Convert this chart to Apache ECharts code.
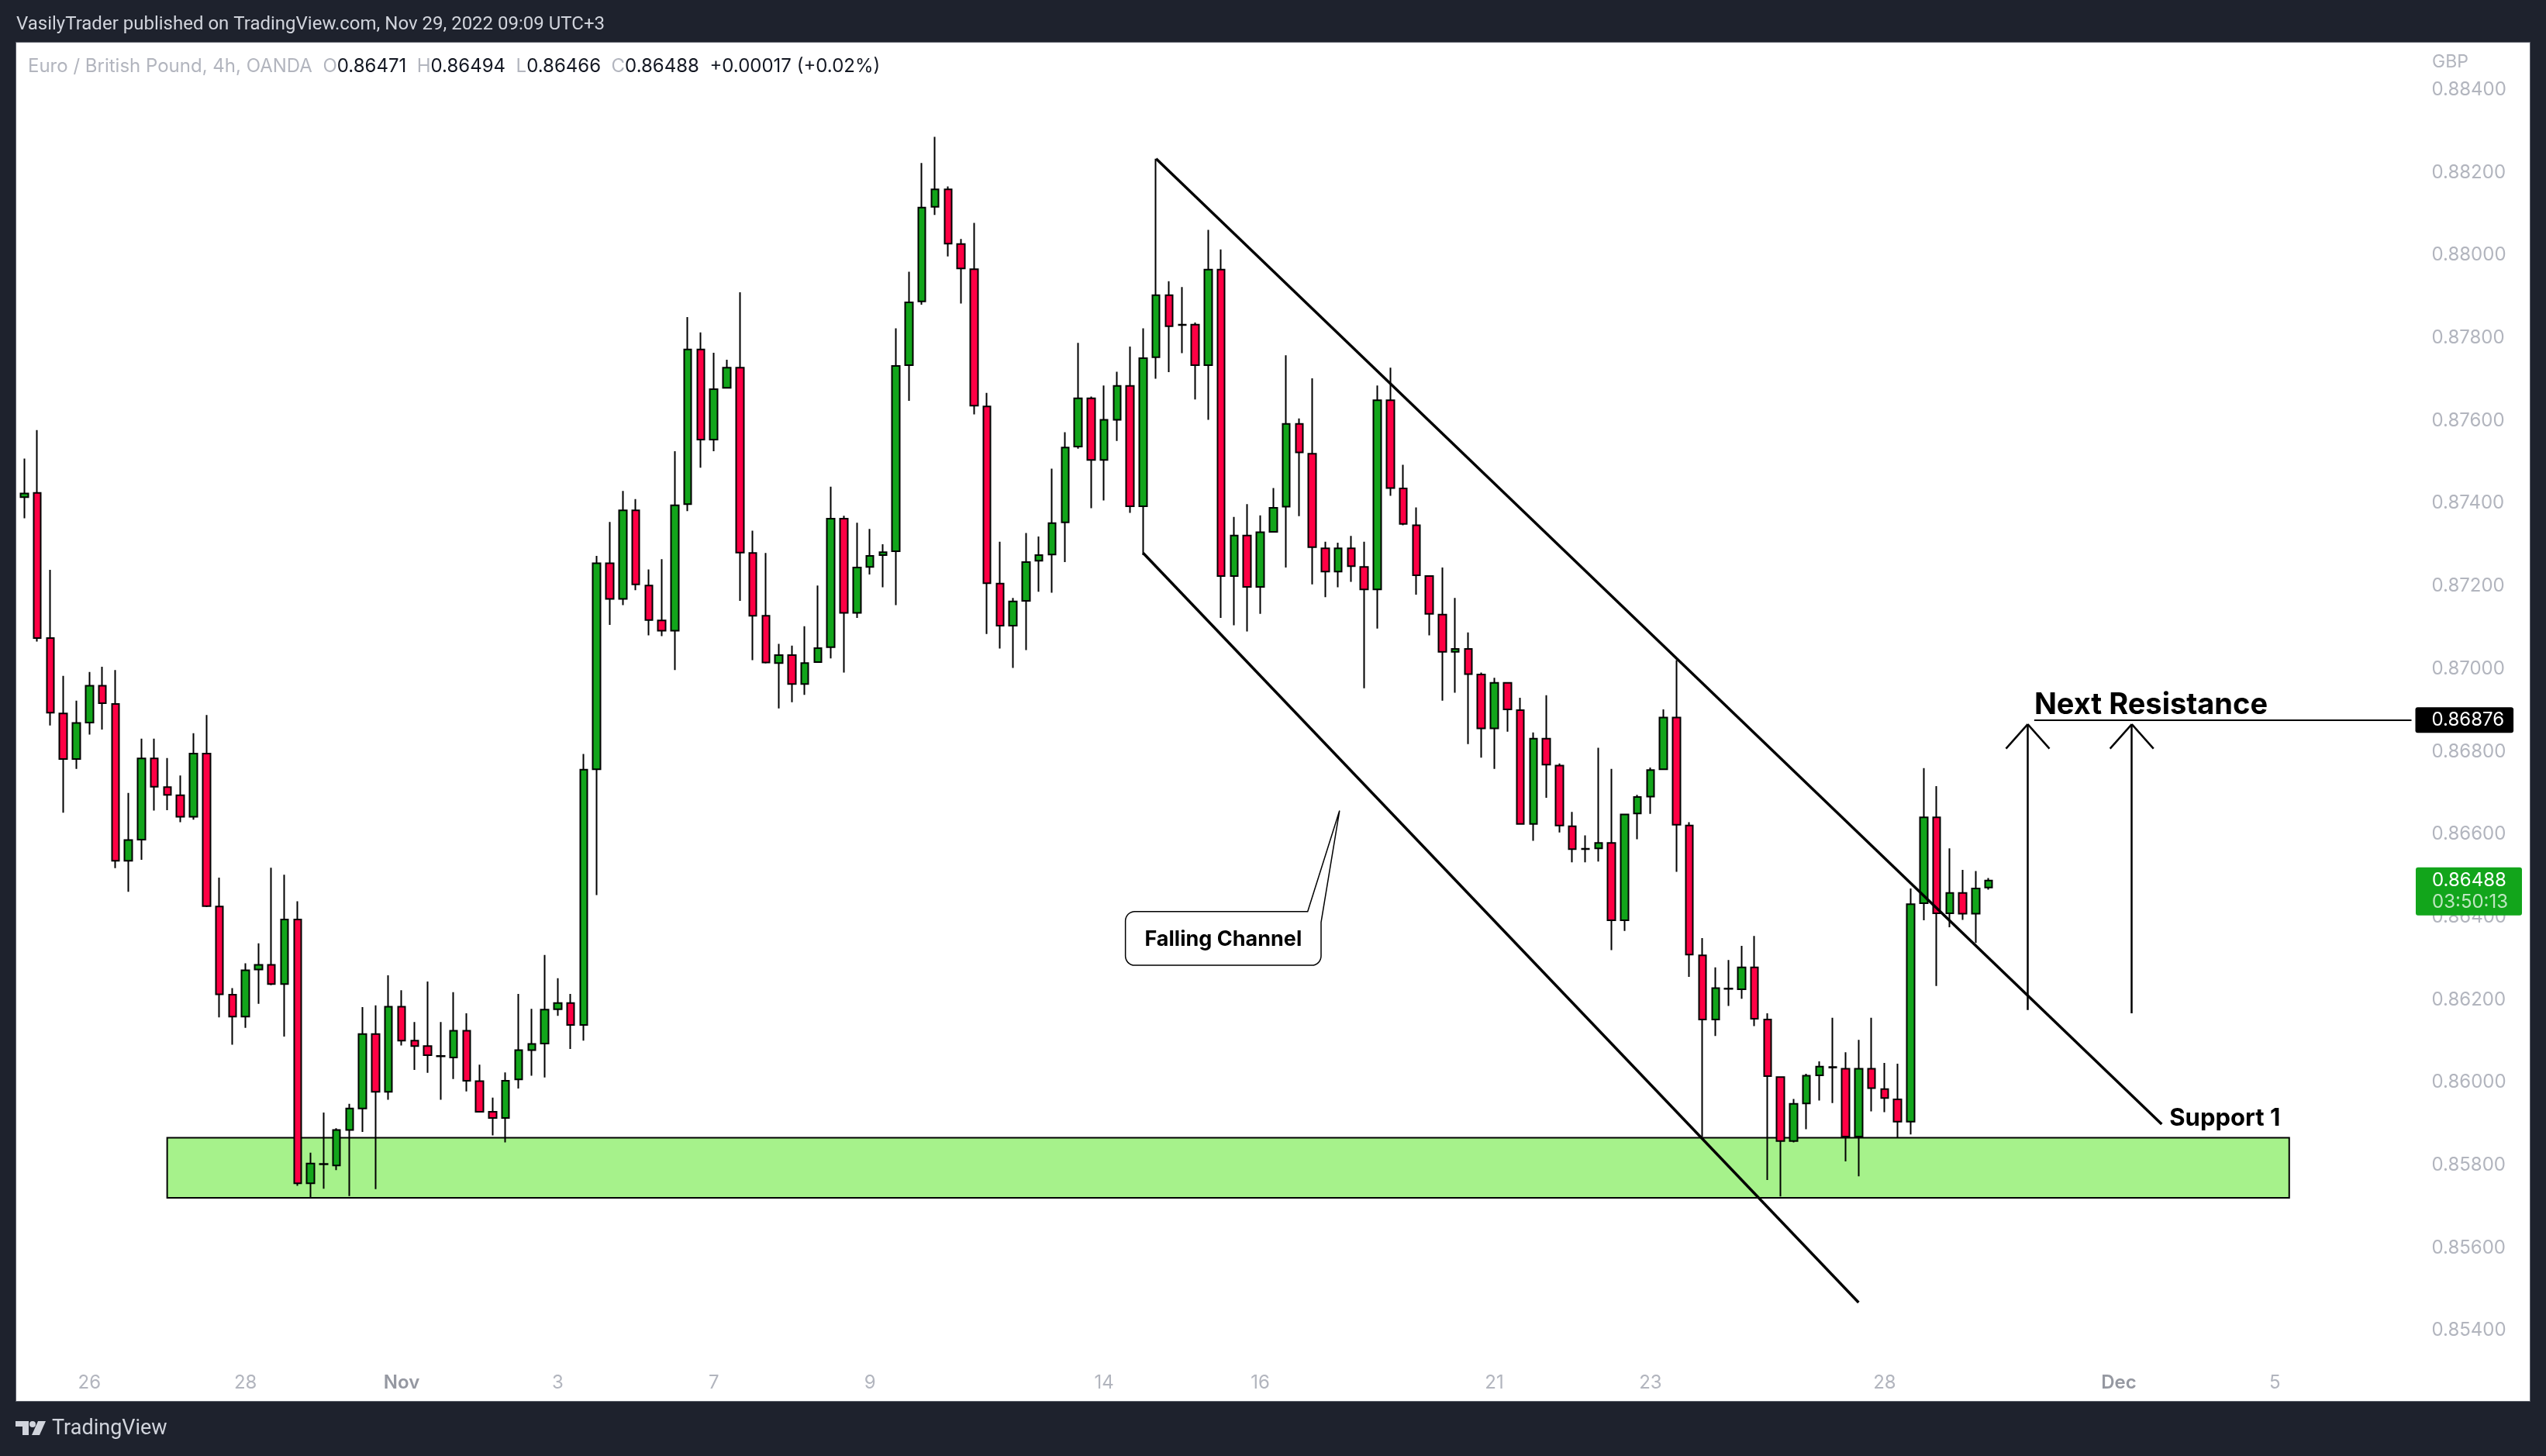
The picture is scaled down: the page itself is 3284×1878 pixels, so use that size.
<!DOCTYPE html>
<html>
<head>
<meta charset="utf-8">
<script src="https://cdn.jsdelivr.net/npm/echarts@6/dist/echarts.min.js"></script>
<style>
html,body{margin:0;padding:0;background:#1e222d;overflow:hidden;}
#frame{position:absolute;left:20px;top:54px;width:3242px;height:1752px;background:#fff;border:1px solid #5d606b;}
#c{position:absolute;left:0;top:0;width:3284px;height:1878px;}
</style>
</head>
<body>
<div id="frame"></div>
<div id="c"></div>
<script>
// ---- EUR/GBP 4h candles (OANDA) ----
const opens = [0.87415,0.87425,0.87074,0.86892,0.86782,0.86870,0.86959,0.86915,0.86536,0.86587,
0.86783,0.86714,0.86694,0.86642,0.86795,0.86425,0.86212,0.86159,0.86273,0.86284,
0.86238,0.86394,0.85756,0.85802,0.85799,0.85885,0.85937,0.86117,0.85977,0.86183,
0.86101,0.86088,0.86063,0.86060,0.86125,0.86003,0.85929,0.85914,0.86007,0.86078,
0.86094,0.86177,0.86192,0.86139,0.86757,0.87255,0.87169,0.87383,0.87201,0.87117,
0.87092,0.87398,0.87772,0.87554,0.87679,0.87728,0.87280,0.87128,0.87014,0.87033,
0.86963,0.87016,0.87052,0.87363,0.87135,0.87246,0.87275,0.87284,0.87734,0.87888,
0.88117,0.88159,0.88027,0.87966,0.87634,0.87206,0.87104,0.87164,0.87261,0.87276,
0.87354,0.87537,0.87654,0.87505,0.87602,0.87684,0.87393,0.87753,0.87903,0.87831,
0.87832,0.87734,0.87965,0.87224,0.87322,0.87198,0.87331,0.87392,0.87592,0.87520,
0.87291,0.87235,0.87291,0.87246,0.87192,0.87649,0.87436,0.87347,0.87224,0.87131,
0.87041,0.87048,0.86986,0.86856,0.86966,0.86900,0.86625,0.86831,0.86766,0.86619,
0.86564,0.86566,0.86579,0.86392,0.86650,0.86691,0.86757,0.86882,0.86621,0.86307,
0.86152,0.86226,0.86225,0.86278,0.86152,0.86013,0.85858,0.85949,0.86017,0.86036,
0.86033,0.85869,0.86033,0.85984,0.85959,0.85905,0.86433,0.86641,0.86409,0.86458,
0.86408,0.86471];
const highs = [0.87508,0.87577,0.87239,0.86983,0.86923,0.86992,0.87005,0.86997,0.86700,0.86831,
0.86831,0.86784,0.86742,0.86844,0.86888,0.86495,0.86228,0.86288,0.86336,0.86519,
0.86502,0.86438,0.85830,0.85927,0.85889,0.85948,0.86182,0.86186,0.86259,0.86223,
0.86146,0.86244,0.86146,0.86218,0.86167,0.86043,0.85963,0.86024,0.86214,0.86178,
0.86308,0.86252,0.86214,0.86794,0.87273,0.87355,0.87430,0.87410,0.87240,0.87265,
0.87526,0.87850,0.87813,0.87764,0.87747,0.87910,0.87334,0.87280,0.87060,0.87056,
0.87103,0.87201,0.87440,0.87370,0.87353,0.87338,0.87301,0.87823,0.87960,0.88223,
0.88286,0.88166,0.88039,0.88078,0.87667,0.87307,0.87171,0.87328,0.87320,0.87484,
0.87572,0.87788,0.87658,0.87685,0.87718,0.87779,0.87823,0.88233,0.87937,0.87923,
0.87837,0.88061,0.88014,0.87367,0.87398,0.87371,0.87437,0.87758,0.87605,0.87702,
0.87307,0.87305,0.87321,0.87307,0.87685,0.87728,0.87493,0.87390,0.87224,0.87245,
0.87171,0.87088,0.86991,0.86978,0.86968,0.86930,0.86846,0.86936,0.86771,0.86654,
0.86597,0.86809,0.86758,0.86648,0.86695,0.86761,0.86902,0.87021,0.86629,0.86349,
0.86278,0.86296,0.86330,0.86354,0.86167,0.86013,0.85960,0.86021,0.86051,0.86156,
0.86073,0.86103,0.86156,0.86047,0.86045,0.86469,0.86760,0.86716,0.86566,0.86514,
0.86511,0.86494];
const lows = [0.87364,0.87066,0.86863,0.86652,0.86758,0.86841,0.86853,0.86518,0.86461,0.86538,
0.86657,0.86658,0.86629,0.86635,0.86424,0.86157,0.86091,0.86132,0.86190,0.86235,
0.86111,0.85750,0.85721,0.85743,0.85788,0.85725,0.85880,0.85742,0.85958,0.86089,
0.86030,0.86023,0.85958,0.86008,0.85978,0.85927,0.85872,0.85855,0.85985,0.86016,
0.86012,0.86161,0.86081,0.86101,0.86453,0.87106,0.87154,0.87190,0.87081,0.87079,
0.86997,0.87381,0.87486,0.87526,0.87679,0.87164,0.87021,0.87013,0.86904,0.86919,
0.86937,0.87016,0.87025,0.86991,0.87123,0.87228,0.87197,0.87154,0.87648,0.87880,
0.88097,0.87997,0.87883,0.87615,0.87084,0.87049,0.87002,0.87045,0.87186,0.87184,
0.87258,0.87532,0.87388,0.87407,0.87551,0.87377,0.87275,0.87701,0.87717,0.87763,
0.87651,0.87602,0.87123,0.87105,0.87090,0.87133,0.87329,0.87245,0.87369,0.87204,
0.87173,0.87197,0.87210,0.86953,0.87097,0.87418,0.87347,0.87179,0.87081,0.86923,
0.86942,0.86818,0.86785,0.86758,0.86848,0.86624,0.86584,0.86688,0.86604,0.86532,
0.86532,0.86534,0.86320,0.86366,0.86588,0.86649,0.86755,0.86509,0.86255,0.85868,
0.86112,0.86185,0.86202,0.86136,0.85764,0.85724,0.85855,0.85887,0.85956,0.85950,
0.85809,0.85773,0.85930,0.85928,0.85867,0.85874,0.86392,0.86233,0.86375,0.86393,
0.86337,0.86466];
const closes = [0.87424,0.87074,0.86894,0.86782,0.86869,0.86959,0.86917,0.86536,0.86586,0.86783,
0.86715,0.86695,0.86642,0.86795,0.86426,0.86213,0.86159,0.86271,0.86284,0.86238,
0.86394,0.85756,0.85804,0.85803,0.85885,0.85937,0.86117,0.85977,0.86183,0.86101,
0.86088,0.86066,0.86064,0.86125,0.86004,0.85929,0.85914,0.86004,0.86078,0.86093,
0.86176,0.86192,0.86139,0.86756,0.87255,0.87169,0.87383,0.87204,0.87118,0.87092,
0.87395,0.87772,0.87554,0.87676,0.87728,0.87281,0.87128,0.87015,0.87033,0.86963,
0.87014,0.87050,0.87363,0.87135,0.87245,0.87273,0.87282,0.87732,0.87886,0.88115,
0.88159,0.88028,0.87968,0.87636,0.87207,0.87104,0.87163,0.87258,0.87275,0.87352,
0.87535,0.87654,0.87505,0.87602,0.87684,0.87393,0.87751,0.87903,0.87828,0.87832,
0.87734,0.87965,0.87224,0.87322,0.87198,0.87330,0.87389,0.87592,0.87523,0.87294,
0.87235,0.87291,0.87248,0.87192,0.87649,0.87437,0.87350,0.87226,0.87133,0.87041,
0.87048,0.86987,0.86856,0.86966,0.86902,0.86625,0.86831,0.86768,0.86621,0.86564,
0.86565,0.86579,0.86392,0.86648,0.86690,0.86755,0.86882,0.86623,0.86309,0.86152,
0.86228,0.86227,0.86278,0.86154,0.86015,0.85858,0.85948,0.86016,0.86038,0.86037,
0.85869,0.86033,0.85986,0.85962,0.85905,0.86431,0.86641,0.86409,0.86458,0.86408,
0.86469,0.86488];

// time axis: 6 candles per trading day; labels at the first candle of each labelled day
const slotCount = 184;
const tickIndex = [5, 17, 29, 41, 53, 65, 83, 95, 113, 125, 143, 161, 173];
const tickLabels = ['26', '28', 'Nov', '3', '7', '9', '14', '16', '21', '23', '28', 'Dec', '5'];
const priceTicks = [0.854, 0.856, 0.858, 0.860, 0.862, 0.864, 0.866, 0.868, 0.870, 0.872, 0.874, 0.876, 0.878, 0.880, 0.882, 0.884];

// drawings (data space: [candle index, price])
const channelUpper = [[87, 0.88233], [164.3, 0.85899]];
const channelLower = [[86, 0.87280], [141, 0.85468]];
const supportZone = [[10.98, 0.85866], [174.1, 0.85721]];
const resistanceLevel = 0.86876;
const resistanceStart = 154.5;
const arrowUps = [[154.0, 0.86175, 0.86866], [162.0, 0.86167, 0.86866]];
const arrowWing = [1.67, 0.00059];
const calloutBox = [[84.64, 0.86413], [99.68, 0.86283]];
const calloutPointer = [[98.65, 0.86413], [101.1, 0.86657], [99.68, 0.86387]];
const lastPrice = 0.86488;
const countdown = '03:50:13';

const chart = echarts.init(document.getElementById('c'), null, {width: 3284, height: 1878, renderer: 'canvas'});
const categories = Array.from({length: slotCount}, (_, i) => String(i));
const labelAt = {};
tickIndex.forEach((t, k) => { labelAt[t] = tickLabels[k]; });
const F = 'Inter, "Noto Sans", sans-serif';

const markLines = [];
markLines.push([{coord: channelUpper[0], lineStyle: {width: 3.5}}, {coord: channelUpper[1]}]);
markLines.push([{coord: channelLower[0], lineStyle: {width: 3.5}}, {coord: channelLower[1]}]);
markLines.push([{coord: [resistanceStart, resistanceLevel], lineStyle: {width: 2}, label: {show: true, position: 'insideStartTop', formatter: 'Next Resistance', color: '#000', fontSize: 38, fontWeight: 'bold', fontFamily: F, distance: 0}}, {coord: [slotCount - 0.5, resistanceLevel]}]);
markLines.push([{coord: [resistanceStart, resistanceLevel], lineStyle: {width: 0, color: 'rgba(0,0,0,0)'}, label: {show: true, position: 'end', formatter: resistanceLevel.toFixed(5), color: '#fff', backgroundColor: '#000', borderRadius: 3, padding: [5, 12, 4, 21], fontSize: 24, fontFamily: F, distance: 5}}, {coord: [slotCount - 0.5, resistanceLevel]}]);
arrowUps.forEach(a => {
  const x = a[0], y0 = a[1], y1 = a[2];
  markLines.push([{coord: [x, y0], lineStyle: {width: 2.5}}, {coord: [x, y1]}]);
  markLines.push([{coord: [x, y1], lineStyle: {width: 2.5}}, {coord: [x - arrowWing[0], y1 - arrowWing[1]]}]);
  markLines.push([{coord: [x, y1], lineStyle: {width: 2.5}}, {coord: [x + arrowWing[0], y1 - arrowWing[1]]}]);
});

const option = {
  backgroundColor: 'transparent',
  animation: false,
  grid: {left: 23, right: 173.5, top: 56, bottom: 118},
  xAxis: [
    {
      type: 'category', data: categories, boundaryGap: true,
      axisLine: {show: false}, axisTick: {show: false}, splitLine: {show: false},
      axisLabel: {
        interval: (i) => labelAt[i] !== undefined,
        formatter: (v) => { const l = labelAt[+v]; if (l === undefined) return ''; return /^[A-Z]/.test(l) ? '{m|' + l + '}' : l; },
        color: '#b2b5be', fontSize: 24, fontFamily: F, margin: 12,
        rich: {m: {color: '#9598a1', fontWeight: 600, fontSize: 24, fontFamily: F}}
      }
    },
    {type: 'value', min: -0.5, max: slotCount - 0.5, show: false}
  ],
  yAxis: {
    type: 'value', position: 'right', min: 0.853179, max: 0.885119, splitNumber: 16,
    axisLine: {show: false}, axisTick: {show: false}, splitLine: {show: false},
    axisLabel: {
      margin: 26, color: '#b2b5be', fontSize: 24, fontFamily: F, showMinLabel: false, showMaxLabel: false,
      formatter: (v) => priceTicks.some(t => Math.abs(t - v) < 1e-7) ? v.toFixed(5) : ''
    }
  },
  series: [
    {
      type: 'line', xAxisIndex: 1, yAxisIndex: 0, data: [], silent: true, z: 1,
      markArea: {
        silent: true, z: 1,
        itemStyle: {color: '#a6f28b', borderColor: '#000', borderWidth: 2},
        data: [[{coord: supportZone[0]}, {coord: supportZone[1]}]]
      }
    },
    {
      type: 'candlestick', xAxisIndex: 0, yAxisIndex: 0, z: 3, barWidth: 10, silent: true,
      data: opens.map((o, i) => [o, closes[i], lows[i], highs[i]]),
      itemStyle: {color: '#12a51b', color0: '#ff0044', borderColor: '#000', borderColor0: '#000', borderColorDoji: '#000', borderWidth: 2}
    },
    {
      type: 'line', xAxisIndex: 1, yAxisIndex: 0, data: [], silent: true, z: 5,
      markLine: {
        silent: true, symbol: ['none', 'none'], animation: false, z: 5,
        label: {show: false},
        lineStyle: {color: '#000', type: 'solid', width: 2},
        emphasis: {disabled: true},
        data: markLines
      }
    }
  ]
};
chart.setOption(option);

// overlay drawings positioned through the chart's own scales
const px = (x) => chart.convertToPixel({xAxisIndex: 1}, x);
const py = (y) => chart.convertToPixel({yAxisIndex: 0}, y);

const X0 = px(calloutBox[0][0]), X1 = px(calloutBox[1][0]);
const Y0 = py(calloutBox[0][1]), Y1 = py(calloutBox[1][1]);
const BX = px(calloutPointer[0][0]);
const TX = px(calloutPointer[1][0]), TY = py(calloutPointer[1][1]);
const RY = py(calloutPointer[2][1]);
const r = 12;
function arc(cx, cy, a0, a1) {
  const out = [];
  for (let k = 0; k <= 8; k++) {
    const a = a0 + (a1 - a0) * k / 8;
    out.push([cx + r * Math.cos(a), cy + r * Math.sin(a)]);
  }
  return out;
}
const calloutPts = [
  [X0 + r, Y0], [BX, Y0], [TX, TY], [X1, RY], [X1, Y1 - r],
  ...arc(X1 - r, Y1 - r, 0, Math.PI / 2),
  [X0 + r, Y1],
  ...arc(X0 + r, Y1 - r, Math.PI / 2, Math.PI),
  [X0, Y0 + r],
  ...arc(X0 + r, Y0 + r, Math.PI, Math.PI * 1.5)
];
const LP = py(lastPrice);
const SX = px(channelUpper[1][0]), SY = py(channelUpper[1][1]);

chart.setOption({
  graphic: [
    {type: 'text', x: 21, y: 32, silent: true, style: {text: 'VasilyTrader published on TradingView.com, Nov 29, 2022 09:09 UTC+3', fill: '#d1d4dc', fontSize: 24, fontFamily: 'Roboto, sans-serif', textVerticalAlign: 'middle', verticalAlign: 'middle'}},
    {type: 'text', x: 36, y: 86, silent: true, style: {
      text: '{g|Euro / British Pound, 4h, OANDA  O}{v|0.86471}{g|  H}{v|0.86494}{g|  L}{v|0.86466}{g|  C}{v|0.86488}{v|  +0.00017 (+0.02%)}',
      textVerticalAlign: 'middle', verticalAlign: 'middle',
      rich: {g: {fill: '#b2b5be', color: '#b2b5be', fontSize: 24, fontFamily: F}, v: {fill: '#131722', color: '#131722', fontSize: 24, fontFamily: F}}
    }},
    {type: 'text', x: 3137, y: 80, silent: true, style: {text: 'GBP', fill: '#b2b5be', fontSize: 23, fontFamily: F, textVerticalAlign: 'middle', verticalAlign: 'middle'}},
    {type: 'text', z: 101, silent: true, x: SX + 10, y: SY - 7, style: {text: 'Support 1', fill: '#000', fontSize: 31, fontWeight: 'bold', fontFamily: F, textVerticalAlign: 'middle', verticalAlign: 'middle'}},
    {type: 'polygon', z: 100, silent: true, shape: {points: calloutPts}, style: {fill: '#fff', stroke: '#000', lineWidth: 1.5}},
    {type: 'text', z: 101, silent: true, x: (X0 + X1) / 2, y: (Y0 + Y1) / 2 + 1, style: {text: 'Falling Channel', fill: '#000', fontSize: 27, fontWeight: 'bold', fontFamily: F, textAlign: 'center', align: 'center', textVerticalAlign: 'middle', verticalAlign: 'middle'}},
    {type: 'rect', z: 100, silent: true, shape: {x: 3116, y: LP - 17, width: 137, height: 62, r: 3}, style: {fill: '#12a51b'}},
    {type: 'text', z: 101, silent: true, x: 3137, y: LP, style: {text: lastPrice.toFixed(5), fill: '#fff', fontSize: 24, fontFamily: F, textVerticalAlign: 'middle', verticalAlign: 'middle'}},
    {type: 'text', z: 101, silent: true, x: 3137, y: LP + 28, style: {text: countdown, fill: 'rgba(255,255,255,0.72)', fontSize: 24, fontFamily: F, textVerticalAlign: 'middle', verticalAlign: 'middle'}},
    {type: 'polygon', silent: true, shape: {points: [[20, 1833], [37, 1833], [37, 1851], [29, 1851], [29, 1840], [20, 1840]]}, style: {fill: '#d1d4dc'}},
    {type: 'circle', silent: true, shape: {cx: 42, cy: 1837, r: 4}, style: {fill: '#d1d4dc'}},
    {type: 'polygon', silent: true, shape: {points: [[49, 1833], [59, 1833], [51, 1851], [41, 1851]]}, style: {fill: '#d1d4dc'}},
    {type: 'text', x: 67, y: 1843, silent: true, style: {text: 'TradingView', fill: '#d1d4dc', fontSize: 27, fontFamily: 'Roboto, sans-serif', textVerticalAlign: 'middle', verticalAlign: 'middle'}}
  ]
});
</script>
</body>
</html>
